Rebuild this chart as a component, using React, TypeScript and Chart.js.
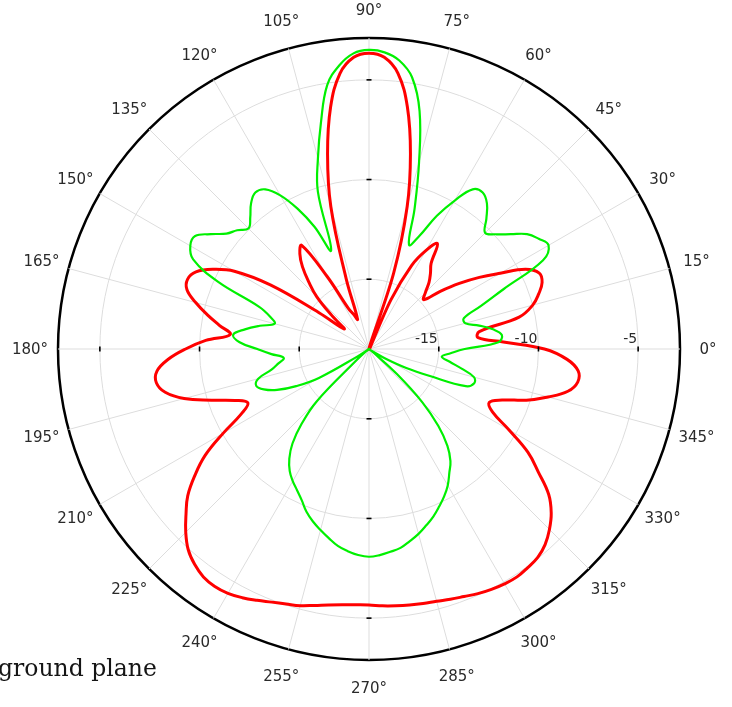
import React, { useEffect, useRef } from 'react';
import { Chart, registerables } from 'chart.js';

Chart.register(...registerables);

// Angles (degrees, counter-clockwise from 0° at the right), one sample every 3°
const ANGLES = [
  0, 3, 6, 9, 12, 15, 18, 21, 24, 27, 30, 33, 36, 39, 42, 45, 48, 51, 54, 57,
  60, 63, 66, 69, 72, 75, 78, 81, 84, 87, 90, 93, 96, 99, 102, 105, 108, 111, 114, 117,
  120, 123, 126, 129, 132, 135, 138, 141, 144, 147, 150, 153, 156, 159, 162, 165, 168, 171, 174, 177,
  180, 183, 186, 189, 192, 195, 198, 201, 204, 207, 210, 213, 216, 219, 222, 225, 228, 231, 234, 237,
  240, 243, 246, 249, 252, 255, 258, 261, 264, 267, 270, 273, 276, 279, 282, 285, 288, 291, 294, 297,
  300, 303, 306, 309, 312, 315, 318, 321, 324, 327, 330, 333, 336, 339, 342, 345, 348, 351, 354, 357,
];

// Red pattern (dB)
const RED_DB = [
  -9.7, -11.75, -13.0, -12.9, -10.8, -10.0, -9.55, -9.2, -9.15, -9.7,
  -10.9, -11.9, -12.9, -13.9, -14.8, -14.5, -14.0, -13.6, -13.2, -12.2,
  -12.8, -13.8, -15.8, -18.5, -14.5, -11.1, -8.5, -6.2, -4.6, -3.85,
  -3.66, -3.85, -4.6, -6.2, -8.5, -11.1, -14.8, -16.9, -16.6, -16.2,
  -14.3, -12.3, -12.6, -13.2, -14.0, -14.8, -16.0, -16.9, -15.4, -12.6,
  -10.7, -9.7, -9.0, -8.75, -8.9, -9.5, -10.2, -10.9, -11.5, -10.3,
  -9.3, -8.4, -7.8, -7.7, -8.05, -8.9, -10.2, -11.3, -11.85, -11.3,
  -10.06, -8.7, -7.7, -6.8, -6.15, -5.5, -4.95, -4.6, -4.37, -4.3,
  -4.35, -4.5, -4.7, -4.9, -5.05, -5.17, -5.35, -5.5, -5.6, -5.65,
  -5.66, -5.6, -5.55, -5.5, -5.45, -5.4, -5.3, -5.2, -5.07, -4.97,
  -4.9, -4.87, -4.95, -5.05, -5.3, -5.7, -6.2, -6.9, -8.0, -9.0,
  -10.4, -11.55, -11.9, -11.35, -10.2, -9.2, -8.3, -7.9, -7.95, -8.55,
];

// Green pattern (dB)
const GREEN_DB = [
  -13.7, -12.0, -11.8, -12.2, -12.85, -13.5, -13.5, -12.5, -11.1, -8.7,
  -8.1, -8.35, -8.7, -9.35, -9.9, -10.26, -9.7, -9.1, -8.8, -8.95,
  -9.9, -11.0, -12.3, -12.9, -11.1, -8.8, -6.3, -4.7, -3.95, -3.6,
  -3.5, -3.65, -4.2, -5.1, -6.9, -8.6, -10.2, -13.2, -11.8, -10.6,
  -9.6, -8.95, -8.8, -9.1, -9.6, -9.95, -9.6, -9.3, -8.7, -8.1,
  -8.15, -8.6, -10.2, -12.6, -13.3, -13.6, -12.9, -12.2, -11.65, -12.0,
  -12.9, -13.6, -14.2, -13.9, -13.5, -12.75, -12.55, -12.85, -13.45, -14.4,
  -15.6, -17.8, -18.5, -18.3, -17.6, -14.8, -13.45, -12.4, -11.7, -11.2,
  -10.85, -10.55, -10.2, -9.75, -9.4, -9.1, -8.8, -8.5, -8.3, -8.15,
  -8.08, -8.15, -8.27, -8.4, -8.65, -8.9, -9.2, -9.5, -9.85, -10.2,
  -10.6, -11.1, -11.55, -12.25, -13.3, -14.7, -16.6, -18.2, -18.5, -18.3,
  -17.5, -16.4, -15.2, -13.3, -12.95, -13.05, -13.75, -14.4, -14.83, -14.4,
];

const R_TICKS = [-15, -10, -5];
const ANGLE_LABELS = [0, 15, 30, 45, 60, 75, 90, 105, 120, 135, 150, 165, 180, 195, 210, 225, 240, 255, 270, 285, 300, 315, 330, 345];
const AXIS_ANGLES = [0, 90, 180, 270];
const R_MIN = -18.5;
const R_MAX = -2.9;
const CAPTION = 'ground plane';

const N = ANGLES.length;
const STEP = 360 / N;
// radar goes clockwise from startAngle; reorder so the angle grows counter-clockwise
const indexOfAngle = (a: number) => (N - Math.round(a / STEP)) % N;
const reorder = (arr: number[]) => arr.map((_, i) => arr[(N - i) % N]);
const clampMin = (arr: number[]) => arr.map((v) => Math.max(v, R_MIN));

const LABEL_RADIUS = 339;
const TEXT_COLOR = '#2a2a2a';

const overlayPlugin = {
  id: 'overlay',
  afterDraw(chart: any) {
    const scale = chart.scales.r;
    const ctx = chart.ctx as CanvasRenderingContext2D;
    ctx.save();
    // small tick marks on the four axes
    ctx.strokeStyle = '#000';
    ctx.lineWidth = 1.6;
    for (const v of R_TICKS) {
      const d = scale.getDistanceFromCenterForValue(v);
      for (const a of AXIS_ANGLES) {
        const p = scale.getPointPosition(indexOfAngle(a), d);
        ctx.beginPath();
        if (a % 180 === 0) {
          ctx.moveTo(p.x, p.y - 2.5);
          ctx.lineTo(p.x, p.y + 2.5);
        } else {
          ctx.moveTo(p.x - 2.5, p.y);
          ctx.lineTo(p.x + 2.5, p.y);
        }
        ctx.stroke();
      }
    }
    // radial tick labels along 0°
    ctx.font = '14px "DejaVu Sans"';
    ctx.fillStyle = TEXT_COLOR;
    ctx.textAlign = 'right';
    ctx.textBaseline = 'alphabetic';
    for (const v of R_TICKS) {
      const p = scale.getPointPosition(indexOfAngle(0), scale.getDistanceFromCenterForValue(v));
      ctx.fillText(String(v), p.x - 1, p.y - 6);
    }
    // angle labels
    ctx.font = '15px "DejaVu Sans"';
    ctx.textAlign = 'center';
    ctx.textBaseline = 'middle';
    for (const a of ANGLE_LABELS) {
      const p = scale.getPointPosition(indexOfAngle(a), LABEL_RADIUS);
      ctx.fillText(a + '°', p.x, p.y + 1);
    }
    // caption fragment at the bottom-left
    ctx.font = '23.5px "DejaVu Serif"';
    ctx.fillStyle = '#151515';
    ctx.textAlign = 'left';
    ctx.textBaseline = 'alphabetic';
    ctx.fillText(CAPTION, -2, 676);
    ctx.restore();
  },
};

export default function App() {
  const ref = useRef<HTMLCanvasElement>(null);
  useEffect(() => {
    if (!ref.current) return;
    const chart = new Chart(ref.current, {
      type: 'radar',
      data: {
        labels: reorder(ANGLES).map((a) => a + '°'),
        datasets: [
          {
            label: 'green',
            data: reorder(clampMin(GREEN_DB)),
            borderColor: '#00f000',
            borderWidth: 2.2,
            pointRadius: 0,
            fill: false,
            tension: 0.4,
          },
          {
            label: 'red',
            data: reorder(clampMin(RED_DB)),
            borderColor: '#ff0000',
            borderWidth: 3,
            pointRadius: 0,
            fill: false,
            tension: 0.4,
          },
        ],
      },
      options: {
        animation: false,
        responsive: false,
        layout: { padding: { left: 58, right: 52, top: 38, bottom: 47 } },
        plugins: { legend: { display: false }, tooltip: { enabled: false } },
        scales: {
          r: {
            min: R_MIN,
            max: R_MAX,
            startAngle: 90,
            afterBuildTicks: (s: any) => {
              s.ticks = [...R_TICKS, R_MAX].map((v) => ({ value: v }));
            },
            ticks: { display: false },
            pointLabels: { display: false },
            grid: {
              circular: true,
              color: (c: any) => (c.tick && c.tick.value === R_MAX ? '#000000' : '#dddddd'),
              lineWidth: (c: any) => (c.tick && c.tick.value === R_MAX ? 2.5 : 1),
            },
            angleLines: {
              color: '#dddddd',
              lineWidth: (c: any) => (c.index % 5 === 0 ? 1 : 0),
            },
          },
        },
      },
      plugins: [overlayPlugin],
    });
    return () => chart.destroy();
  }, []);
  return (
    <canvas
      ref={ref}
      width={732}
      height={707}
      style={{ position: 'absolute', left: 0, top: 0, width: 732, height: 707 }}
    />
  );
}
